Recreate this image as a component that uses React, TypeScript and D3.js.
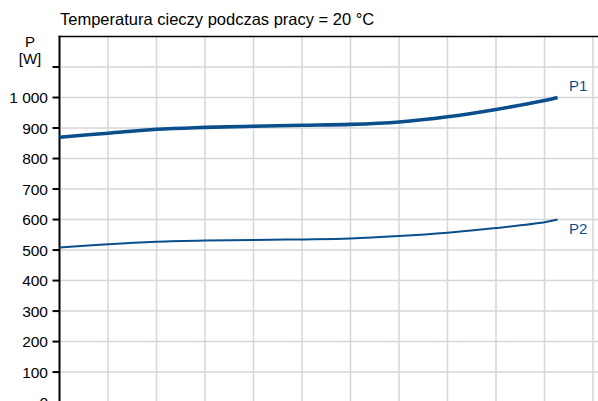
import React from "react";
import * as d3 from "d3";

const W = 598;
const H = 401;

const title = "Temperatura cieczy podczas pracy = 20 °C";
const xGrid = [0, 1, 2, 3, 4, 5, 6, 7, 8, 9, 10, 11];
const yTicks = [0, 100, 200, 300, 400, 500, 600, 700, 800, 900, 1000, 1100];
const yTickLabels = ["0", "100", "200", "300", "400", "500", "600", "700", "800", "900", "1 000", ""];

const xs = [0, 1, 2, 3, 4, 5, 6, 7, 8, 9, 10, 10.27];
const p1 = [870, 883, 896, 902, 906, 909, 912, 920, 937, 961, 990, 1000];
const p2 = [508, 519, 527, 531, 533, 535, 538, 546, 557, 572, 591, 600];

const BLUE = "#0a4f8c";
const GRID = "#d3d6da";

export default function App() {
  const x = d3.scaleLinear().domain([0, 11]).range([59.5, 593]);
  const y = d3.scaleLinear().domain([0, 1200]).range([402.6, 36.5]);

  const line = d3
    .line<number>()
    .x((_, i) => x(xs[i]))
    .y((d) => y(d))
    .curve(d3.curveCatmullRom.alpha(0.5));

  const font = "'Liberation Sans', Arial, sans-serif";

  return (
    <div style={{ position: "absolute", left: 0, top: 0 }}>
      <svg width={W} height={H} style={{ display: "block", background: "#fff" }} fontFamily={font}>
        {/* grid */}
        {xGrid.slice(1).map((g) => (
          <line key={"vx" + g} x1={x(g)} x2={x(g)} y1={y(1200)} y2={H} stroke={GRID} strokeWidth={1.5} />
        ))}
        {yTicks.slice(1).map((t) => (
          <line key={"hy" + t} x1={x(0)} x2={W} y1={y(t)} y2={y(t)} stroke={GRID} strokeWidth={1.5} />
        ))}
        {/* top border */}
        <line x1={x(0) - 1} x2={W} y1={y(1200)} y2={y(1200)} stroke="#000" strokeWidth={1.5} />
        {/* left axis */}
        <line x1={x(0)} x2={x(0)} y1={y(1200) - 0.75} y2={H} stroke="#000" strokeWidth={2} />
        {yTicks.map((t, i) => (
          <g key={"t" + t}>
            <line x1={x(0) - 7} x2={x(0)} y1={y(t)} y2={y(t)} stroke="#000" strokeWidth={2} />
            <text x={48} y={y(t)} dy="0.36em" textAnchor="end" fontSize={15.5} fill="#000">
              {yTickLabels[i]}
            </text>
          </g>
        ))}
        {/* axis label */}
        <text x={30} y={47} textAnchor="middle" fontSize={15} fill="#000">P</text>
        <text x={30} y={64} textAnchor="middle" fontSize={15} fill="#000">[W]</text>
        {/* title */}
        <text x={60} y={25} fontSize={16.5} fill="#000">{title}</text>
        {/* curves */}
        <path d={line(p1) || ""} fill="none" stroke={BLUE} strokeWidth={3.6} />
        <path d={line(p2) || ""} fill="none" stroke={BLUE} strokeWidth={2} />
        <text x={569} y={y(1000) - 7} fontSize={15} fill={BLUE}>P1</text>
        <text x={569} y={y(600) + 14} fontSize={15} fill={BLUE}>P2</text>
      </svg>
    </div>
  );
}
